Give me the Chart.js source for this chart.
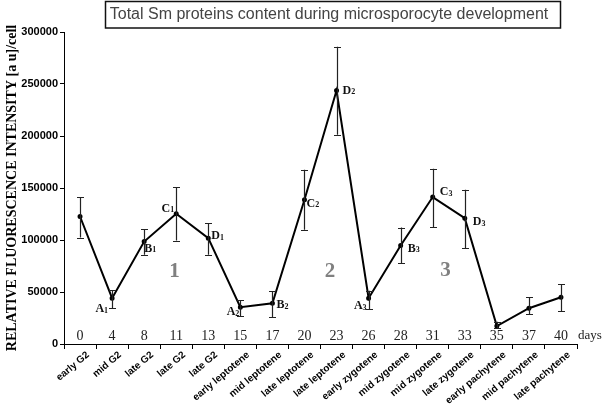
<!DOCTYPE html>
<html>
<head>
<meta charset="utf-8">
<script src="https://cdn.jsdelivr.net/npm/chart.js@4/dist/chart.umd.min.js"></script>
<style>
html,body{margin:0;padding:0;background:#fff;}
#wrap{width:602px;height:407px;position:relative;}
</style>
</head>
<body>
<div id="wrap"><canvas id="c" width="602" height="407"></canvas></div>
<script>
const stages = ["early G2","mid G2","late G2","late G2","late G2","early leptotene","mid leptotene","late leptotene","late leptotene","early zygotene","mid zygotene","mid zygotene","late zygotene","early pachytene","mid pachytene","late pachytene"];
const days = ["0","4","8","11","13","15","17","20","23","26","28","31","33","35","37","40"];
const intensity = [122600,44000,98500,125200,101800,35300,39200,138700,243700,44000,94700,141300,121000,17300,34400,45000];
const errHigh = [140900,52000,110500,150900,116200,42400,51000,167600,285700,51300,112000,168500,148300,21500,45000,57500];
const errLow  = [102400,34400,85700,99500,85700,27000,25700,109800,201300,33400,77700,112400,92200,15100,28900,31800];
const pointLetters = ["","A","B","C","D","A","B","C","D","A","B","C","D","","",""];
const pointIndices = ["","1","1","1","1","2","2","2","2","3","3","3","3","","",""];
const phaseNames = ["1","2","3"];
const yTicks = [0,50000,100000,150000,200000,250000,300000];
const titleText = "Total Sm proteins content during microsporocyte development";
const yTitle = "RELATIVE FLUORESCENCE INTENSITY [a u]/cell";

// label offsets relative to the point: [dx, dy, align]
const labelPos = [null,[-4,11,'right'],[0,7,'left'],[-2,-5,'right'],[3,-2,'left'],[-1,5,'right'],[4,2,'left'],[2,4,'left'],[6,0,'left'],[-2,8,'right'],[7,3,'left'],[7,-5,'left'],[8,4,'left'],null,null,null];
// phase number placement: category position (fractional index) and value
const phasePos = [[2.95,70000],[7.8,70000],[11.4,70500]];

const decor = {
  id:'decor',
  afterDatasetsDraw(chart){
    const ctx = chart.ctx, x = chart.scales.x, y = chart.scales.y;
    ctx.save();
    // error bars
    ctx.strokeStyle = '#222'; ctx.lineWidth = 1.2;
    for(let i=0;i<intensity.length;i++){
      const px = Math.round(x.getPixelForValue(i))+0.5;
      const top = y.getPixelForValue(errHigh[i]), bot = y.getPixelForValue(errLow[i]);
      ctx.beginPath();
      ctx.moveTo(px,top); ctx.lineTo(px,bot);
      ctx.moveTo(px-3.5,Math.round(top)+0.5); ctx.lineTo(px+3.5,Math.round(top)+0.5);
      ctx.moveTo(px-3.5,Math.round(bot)+0.5); ctx.lineTo(px+3.5,Math.round(bot)+0.5);
      ctx.stroke();
    }
    // point labels with subscripts
    ctx.fillStyle = '#111'; ctx.textBaseline = 'middle';
    for(let i=0;i<intensity.length;i++){
      if(!pointLetters[i]) continue;
      const p = labelPos[i];
      const px = x.getPixelForValue(i) + p[0], py = y.getPixelForValue(intensity[i]) + p[1];
      ctx.font = 'bold 12px "Liberation Serif"';
      const w1 = ctx.measureText(pointLetters[i]).width;
      ctx.font = 'bold 8px "Liberation Serif"';
      const w2 = ctx.measureText(pointIndices[i]).width;
      const sx = p[2]==='right' ? px - w1 - w2 : px;
      ctx.textAlign = 'left';
      ctx.font = 'bold 12px "Liberation Serif"';
      ctx.fillText(pointLetters[i], sx, py);
      ctx.font = 'bold 8px "Liberation Serif"';
      ctx.fillText(pointIndices[i], sx + w1, py + 1.5);
    }
    // phase numbers
    ctx.fillStyle = '#808080'; ctx.textAlign = 'center';
    ctx.font = 'bold 21px "Liberation Serif"';
    phaseNames.forEach((t,k)=>{
      const cat = phasePos[k][0];
      const i0 = Math.floor(cat), f = cat - i0;
      const px = x.getPixelForValue(i0) + f*(x.getPixelForValue(i0+1)-x.getPixelForValue(i0));
      ctx.fillText(t, px, y.getPixelForValue(phasePos[k][1]));
    });
    // day numbers
    ctx.fillStyle = '#222'; ctx.font = '14px "Liberation Serif"';
    ctx.textBaseline = 'middle';
    days.forEach((d,i)=>{ ctx.fillText(d, x.getPixelForValue(i), 336); });
    ctx.textAlign = 'left';
    ctx.font = '13px "Liberation Serif"';
    ctx.fillText('days', x.right + 1, 336);
    // title box
    ctx.fillStyle = '#fff';
    ctx.fillRect(105,1,455,27);
    ctx.strokeStyle = '#111'; ctx.lineWidth = 1.5;
    ctx.strokeRect(105.5,1.5,455,26.5);
    ctx.fillStyle = '#444'; ctx.font = '16px "Liberation Sans"';
    ctx.textAlign = 'center';
    ctx.fillText(titleText, 329, 15);
    ctx.restore();
  }
};

new Chart(document.getElementById('c'),{
  type:'line',
  data:{labels:stages,datasets:[{data:intensity,borderColor:'#000',borderWidth:2,pointRadius:1.5,pointBackgroundColor:'#000',pointBorderColor:'#000',tension:0}]},
  options:{
    responsive:false,animation:false,
    layout:{padding:{top:32,right:25,left:0,bottom:0}},
    plugins:{legend:{display:false},tooltip:{enabled:false}},
    scales:{
      x:{
        offset:true,
        grid:{offset:true,drawOnChartArea:false,drawTicks:true,tickLength:5,color:'#000'},
        border:{color:'#000',width:1},
        ticks:{maxRotation:40,minRotation:40,autoSkip:false,padding:0,labelOffset:8,color:'#000',font:{family:'"Liberation Sans"',weight:'bold',size:10}},
        afterFit(s){ s.height = 63; s.paddingLeft = 0; s.paddingRight = 0; }
      },
      y:{
        min:0,max:300000,
        afterBuildTicks(s){ s.ticks = yTicks.map(v=>({value:v})); },
        grid:{drawOnChartArea:false,drawTicks:true,tickLength:4,color:'#000'},
        border:{color:'#000',width:1},
        ticks:{padding:2,color:'#000',font:{family:'"Liberation Sans"',weight:'bold',size:11},callback:v=>String(v)},
        title:{display:true,text:yTitle,color:'#000',padding:{top:4,bottom:0},font:{family:'"Liberation Serif"',weight:'bold',size:14}},
        afterFit(s){ s.width = 64; s.paddingTop = 0; s.paddingBottom = 0; }
      }
    }
  },
  plugins:[decor]
});
</script>
</body>
</html>
